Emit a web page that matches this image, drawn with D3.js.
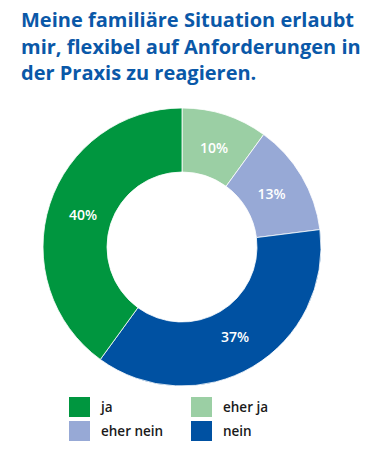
<!DOCTYPE html>
<html><head><meta charset="utf-8">
<script src="https://cdn.jsdelivr.net/npm/d3@7"></script>
<style>
html,body{margin:0;padding:0;background:#fff;}
svg{display:block;font-family:"Open Sans","Noto Sans",sans-serif;}
</style></head>
<body>
<svg id="c" width="379" height="451"></svg>
<script>
const titleLines = ["Meine familiäre Situation erlaubt","mir, flexibel auf Anforderungen in","der Praxis zu reagieren."];
const categories = ["eher ja","eher nein","nein","ja"];
const values = [10,13,37,40];
const colors = ["#9bcfa4","#97a9d6","#0051a2","#00963f"];
const legendOrder = ["ja","eher ja","eher nein","nein"];

const svg = d3.select("#c");
const title = svg.append("g");
titleLines.forEach((t,i)=>{
  title.append("text").attr("x",21).attr("y",27+i*26.5)
    .attr("fill","#0a58a8").attr("font-weight",700).attr("font-size",20)
    .attr("font-family","'Open Sans',sans-serif")
    .text(t);
});

const cx=182, cy=247, R=139, r=75;
const color = d3.scaleOrdinal().domain(categories).range(colors);
const pie = d3.pie().sort(null).value(d=>d.v);
const data = categories.map((c,i)=>({c, v:values[i]}));
const arcs = pie(data);
const arc = d3.arc().innerRadius(r).outerRadius(R);
const labelArc = d3.arc().innerRadius(104).outerRadius(104);
const g = svg.append("g").attr("transform",`translate(${cx},${cy})`);
g.selectAll("path").data(arcs).join("path")
  .attr("d",arc).attr("fill",d=>color(d.data.c))
  .attr("stroke","#fff").attr("stroke-width",0.8);
g.selectAll("text").data(arcs).join("text")
  .attr("transform",d=>`translate(${labelArc.centroid(d)})`)
  .attr("text-anchor","middle").attr("dy","0.36em")
  .attr("fill","#fff").attr("font-weight",600).attr("font-size",14)
  .text(d=>d.data.v+"%");

const lg = svg.append("g");
legendOrder.forEach((c,i)=>{
  const col=i%2, row=Math.floor(i/2);
  const x = 69 + col*122, y = 397 + row*24;
  lg.append("rect").attr("x",x).attr("y",y).attr("width",21).attr("height",20).attr("fill",color(c));
  lg.append("text").attr("x",x+32).attr("y",y+15).attr("fill","#1a1a1a")
    .attr("font-weight",600).attr("font-size",13.5).text(c);
});
</script>
</body></html>
